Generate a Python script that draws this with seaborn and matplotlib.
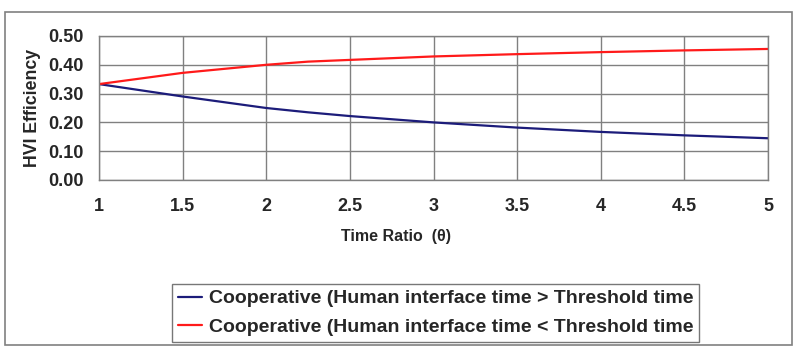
import matplotlib
matplotlib.use("Agg")
import matplotlib.pyplot as plt
import seaborn as sns
import pandas as pd
from matplotlib.patches import Rectangle

# values
time_ratio = [1, 1.5, 2, 2.25, 2.5, 3, 3.5, 4, 4.5, 5]
eff_above = [0.333, 0.290, 0.250, 0.235, 0.222, 0.200, 0.182, 0.167, 0.155, 0.145]
eff_below = [0.333, 0.372, 0.400, 0.411, 0.417, 0.429, 0.437, 0.444, 0.450, 0.455]
series_names = [
    "Cooperative (Human interface time > Threshold time",
    "Cooperative (Human interface time < Threshold time",
]
x_ticks = [1, 1.5, 2, 2.5, 3, 3.5, 4, 4.5, 5]
y_ticks = [0.0, 0.1, 0.2, 0.3, 0.4, 0.5]

df = pd.concat([
    pd.DataFrame({"theta": time_ratio, "eff": eff_above, "series": series_names[0]}),
    pd.DataFrame({"theta": time_ratio, "eff": eff_below, "series": series_names[1]}),
])

sns.set_style("white")
plt.rcParams["font.family"] = ["Liberation Sans", "DejaVu Sans"]
plt.rcParams["font.weight"] = "bold"

fig = plt.figure(figsize=(8, 3.55), dpi=100)
ax = fig.add_axes([99 / 800, 1 - 180 / 355, (768 - 99) / 800, (180 - 36) / 355])

sns.lineplot(data=df, x="theta", y="eff", hue="series",
             palette=["#1c1c7a", "#ff1a1a"], linewidth=1.6, ax=ax)

ax.set_xlim(1, 5)
ax.set_ylim(0, 0.5)
ax.set_xticks(x_ticks)
ax.set_xticklabels([f"{t:g}" for t in x_ticks], fontsize=13, fontweight="bold")
ax.set_yticks(y_ticks)
ax.set_yticklabels([f"{t:.2f}" for t in y_ticks], fontsize=13, fontweight="bold")
ax.grid(True, color="#808080", linewidth=1)
for sp in ax.spines.values():
    sp.set_color("#808080")
    sp.set_linewidth(1)
ax.tick_params(axis="both", length=5, width=1, color="#808080", pad=6)
ax.tick_params(axis="x", pad=8)
ax.set_xlabel("Time Ratio  (θ)", fontsize=11.5, fontweight="bold")
ax.xaxis.set_label_coords((396 - 99) / (768 - 99), -(237 - 180) / (180 - 36), transform=ax.transAxes)
ax.xaxis.label.set_va("center")
ax.set_ylabel("HVI Efficiency", fontsize=12.8, fontweight="bold", labelpad=5)

leg = ax.legend(loc="upper left", bbox_to_anchor=(172 / 800, 1 - 284 / 355),
                bbox_transform=fig.transFigure, frameon=True, fancybox=False,
                fontsize=14, handlelength=1.25, handletextpad=0.35,
                borderpad=0.3, labelspacing=0.55, borderaxespad=0)
leg.get_frame().set_edgecolor("#555555")
leg.get_frame().set_linewidth(1)
for t in leg.get_texts():
    t.set_fontweight("bold")

# outer chart border
fig.patches.append(Rectangle((5 / 800, 1 - 345 / 355), 787 / 800, 333 / 355,
                             transform=fig.transFigure, fill=False,
                             edgecolor="#808080", linewidth=1.2))

fig.savefig("out.png", dpi=100)
